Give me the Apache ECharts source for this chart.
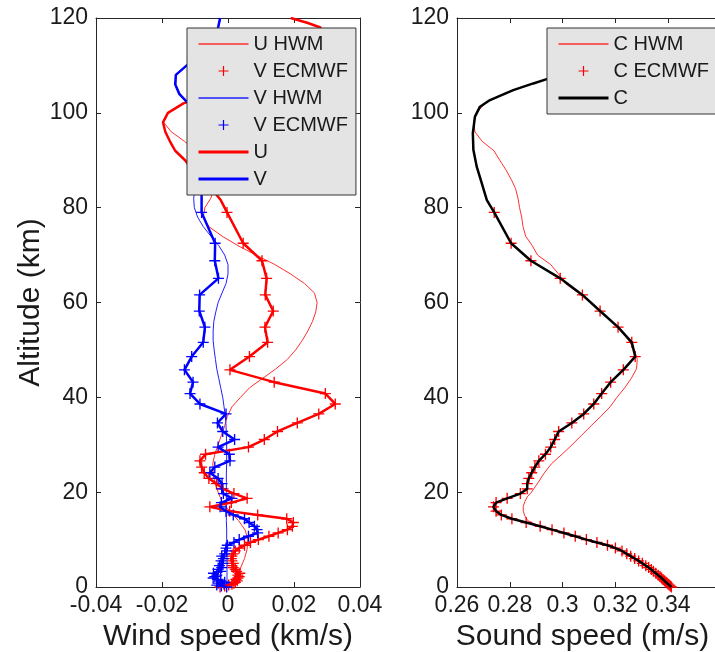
<!DOCTYPE html>
<html><head><meta charset="utf-8">
<script src="https://cdn.jsdelivr.net/npm/echarts@6/dist/echarts.min.js"></script>
<style>html,body{margin:0;padding:0;background:#fff}#c{width:715px;height:652px}</style>
</head><body><div id="c"></div>
<script>
// ECMWF model level altitudes (km)
const altE = [0.0,0.2,0.4,0.6,0.8,1.0,1.3,1.6,1.9,2.2,2.5,2.9,3.3,3.7,4.1,4.5,5.0,5.5,6.0,6.5,7.0,7.6,8.2,8.8,9.4,10.0,10.7,11.4,12.1,12.8,13.6,14.4,15.2,16.0,16.9,17.8,18.7,19.7,20.7,21.8,22.9,24.1,25.3,26.6,28.0,29.5,31.1,32.8,34.6,36.5,38.6,40.8,43.2,45.8,48.6,51.6,54.8,58.2,61.6,65.1,68.8,72.5,79.0];
// U ECMWF (km/s)
const uE = [-0.0024,-0.0010,0.0002,0.0012,0.0018,0.0022,0.0028,0.0024,0.0030,0.0034,0.0030,0.0036,0.0026,0.0022,0.0016,0.0012,0.0016,0.0012,0.0010,0.0012,0.0016,0.0022,0.0034,0.0050,0.0068,0.0092,0.0124,0.0152,0.0180,0.0195,0.0198,0.0178,0.0090,0.0005,-0.0055,0.0010,0.0058,0.0018,-0.0015,-0.0035,-0.0058,-0.0072,-0.0080,-0.0085,-0.0068,0.0062,0.0110,0.0150,0.0210,0.0275,0.0325,0.0295,0.0140,0.0006,0.0065,0.0120,0.0112,0.0137,0.0113,0.0117,0.0103,0.0046,-0.0003];
// V ECMWF (km/s)
const vE = [-0.0004,-0.0020,-0.0034,-0.0012,-0.0030,-0.0010,-0.0022,-0.0032,-0.0045,-0.0040,-0.0034,-0.0044,-0.0022,-0.0030,-0.0019,-0.0026,-0.0015,-0.0021,-0.0014,-0.0019,-0.0010,-0.0004,-0.0006,-0.0002,0.0018,0.0034,0.0062,0.0090,0.0088,0.0080,0.0064,0.0050,0.0016,-0.0006,-0.0024,-0.0020,0.0012,-0.0014,-0.0019,-0.0018,-0.0030,-0.0055,-0.0040,0.0006,0.0004,-0.0030,0.0020,-0.0016,-0.0032,-0.0006,-0.0085,-0.0115,-0.0106,-0.0132,-0.0110,-0.0075,-0.0070,-0.0087,-0.0086,-0.0029,-0.0040,-0.0039,-0.0080];
// C ECMWF (sound speed)
const cE = [0.3412,0.3408,0.3404,0.3400,0.3396,0.3392,0.3386,0.3380,0.3375,0.3369,0.3362,0.3353,0.3344,0.3336,0.3326,0.3315,0.3302,0.3288,0.3273,0.3258,0.3243,0.3225,0.3200,0.3170,0.3130,0.3090,0.3048,0.3005,0.2960,0.2915,0.2862,0.2808,0.2768,0.2748,0.2738,0.2748,0.2790,0.2840,0.2866,0.2866,0.2872,0.2883,0.2895,0.2910,0.2935,0.2955,0.2970,0.2985,0.3035,0.3080,0.3118,0.3148,0.3182,0.3230,0.3275,0.3262,0.3210,0.3142,0.3075,0.2991,0.2880,0.2805,0.2741];

// Combined profiles above the ECMWF top
const altWUp = [81.6,84,86,88,90,92,94,96,98,100,102,104,106,108,110,112,114,116,118,119,120];
const uUp = [-0.0022,-0.0050,-0.0080,-0.0108,-0.0130,-0.0160,-0.0176,-0.0190,-0.0197,-0.0182,-0.0135,-0.0060,0.0020,0.0100,0.0170,0.0230,0.0270,0.0290,0.0280,0.0240,0.0190];
const vUp = [-0.0080,-0.0080,-0.0072,-0.0065,-0.0058,-0.0055,-0.0058,-0.0070,-0.0090,-0.0105,-0.0120,-0.0148,-0.0160,-0.0158,-0.0125,-0.0080,-0.0050,-0.0035,-0.0030,-0.0027,-0.0024];
const altCUp = [81.6,85.1,88.6,92.2,95.7,99.2,101.3,102.7,104.8,106.2,107.1,108.5,110,112,114,116,118,120];
const cUp = [0.2713,0.2694,0.2675,0.2662,0.2660,0.2668,0.2687,0.2725,0.2813,0.2889,0.2940,0.3020,0.3120,0.3270,0.3430,0.3600,0.3780,0.3950];

// HWM profiles
const altH = [0,2,4,6,8,10,12,14,16,18,20,22,24,26,28,30,32,34,36,38,40,42,44,46,48,50,52,54,56,58,60,62,64,66,68,70,72,74,76,78,80,82,84,86,88,90,92,94,96,98,100,102,104,106,108,110,112,114,116,118,120];
const uH = [0.0000,0.0020,0.0038,0.0050,0.0058,0.0060,0.0052,0.0032,0.0005,-0.0018,-0.0030,-0.0040,-0.0045,-0.0046,-0.0040,-0.0030,-0.0020,-0.0010,-0.0002,0.0012,0.0038,0.0065,0.0105,0.0145,0.0180,0.0205,0.0225,0.0242,0.0256,0.0266,0.0270,0.0262,0.0232,0.0190,0.0142,0.0085,0.0030,-0.0018,-0.0058,-0.0075,-0.0070,-0.0052,-0.0042,-0.0042,-0.0050,-0.0070,-0.0098,-0.0132,-0.0172,-0.0195,-0.0182,-0.0135,-0.0060,0.0020,0.0100,0.0170,0.0230,0.0270,0.0290,0.0280,0.0190];
const vH = [-0.0003,-0.0003,-0.0003,-0.0003,-0.0004,-0.0004,-0.0004,-0.0005,-0.0005,-0.0005,-0.0005,-0.0005,-0.0005,-0.0004,-0.0004,-0.0004,-0.0005,-0.0006,-0.0008,-0.0012,-0.0016,-0.0022,-0.0028,-0.0034,-0.0038,-0.0042,-0.0045,-0.0045,-0.0043,-0.0037,-0.0030,-0.0018,-0.0006,0.0000,0.0000,-0.0010,-0.0028,-0.0052,-0.0075,-0.0092,-0.0102,-0.0104,-0.0100,-0.0090,-0.0080,-0.0070,-0.0062,-0.0062,-0.0072,-0.0090,-0.0106,-0.0120,-0.0145,-0.0158,-0.0158,-0.0125,-0.0082,-0.0052,-0.0036,-0.0029,-0.0022];
const altCH = [0,2,4,6,8,10,12,13,14,15,16,17,18,19,20,22,24,26,28,30,32,34,36,38,40,42,44,46,48,50,52,54,56,58,60,62,64,66,68,70,72,74,76,78,80,82,84,86,88,90,92,94,96,98,100,102,104,106,108,110,112,114,116,118,120];
const cH = [0.3412,0.3372,0.3329,0.3273,0.3210,0.3090,0.2968,0.2905,0.2868,0.2857,0.2851,0.2851,0.2857,0.2866,0.2882,0.2907,0.2930,0.2958,0.2998,0.3036,0.3072,0.3108,0.3145,0.3180,0.3206,0.3235,0.3260,0.3280,0.3283,0.3272,0.3250,0.3222,0.3185,0.3148,0.3105,0.3060,0.3010,0.2985,0.2955,0.2905,0.2885,0.2860,0.2850,0.2845,0.2837,0.2831,0.2822,0.2805,0.2785,0.2762,0.2740,0.2695,0.2668,0.2663,0.2675,0.2705,0.2775,0.2878,0.2990,0.3120,0.3270,0.3430,0.3600,0.3780,0.3950];

const legendLeftNames = ['U HWM','U ECMWF','V HWM','V ECMWF','U','V'];
const legendLeftTexts = {'U HWM':'U HWM','U ECMWF':'V ECMWF','V HWM':'V HWM','V ECMWF':'V ECMWF','U':'U','V':'V'};
const legendRightNames = ['C HWM','C ECMWF','C'];

function pairs(xs, ys) { return xs.map((x, i) => [x, ys[i]]); }

const FONT = "'Liberation Sans', Arial, sans-serif";
const TXT = '#1a1a1a';
const AX = '#262626';
const PLUS = 'path://M0,4.4h10v1.2h-10z M4.4,0h1.2v10h-1.2z';

function xAx(grid, pos, min, max, labels, name, namePad) {
  return {
    type: 'value', gridIndex: grid, position: pos, min: min, max: max, interval: 0.02,
    axisLine: {show: true, onZero: false, lineStyle: {color: AX, width: 1}},
    axisTick: {show: true, inside: true, length: 5, lineStyle: {color: AX}},
    axisLabel: {show: labels, margin: 7, fontSize: 23, color: TXT, fontFamily: FONT, showMinLabel: true, showMaxLabel: grid === 0, hideOverlap: false},
    splitLine: {show: false},
    name: labels ? name : '', nameLocation: 'middle', nameGap: 33,
    nameTextStyle: {fontSize: 30, color: TXT, fontFamily: FONT, padding: namePad || 0}
  };
}
function yAx(grid, pos, labels, name) {
  return {
    type: 'value', gridIndex: grid, position: pos, min: 0, max: 120, interval: 20,
    axisLine: {show: true, onZero: false, lineStyle: {color: AX, width: 1}},
    axisTick: {show: true, inside: true, length: 5, lineStyle: {color: AX}},
    axisLabel: {show: labels, margin: 8, fontSize: 23, color: TXT, fontFamily: FONT, hideOverlap: false},
    splitLine: {show: false},
    name: name || '', nameLocation: 'middle', nameGap: 50,
    nameTextStyle: {fontSize: 30, color: TXT, fontFamily: FONT}
  };
}

function lineS(name, data, color, width, xi, yi, z) {
  return {name: name, type: 'line', data: data, xAxisIndex: xi, yAxisIndex: yi, symbol: 'none',
    lineStyle: {color: color, width: width}, itemStyle: {color: color}, z: z, clip: true, silent: true};
}
function markS(name, data, color, xi, yi, z) {
  return {name: name, type: 'scatter', data: data, xAxisIndex: xi, yAxisIndex: yi, symbol: PLUS, symbolSize: 11,
    itemStyle: {color: color, opacity: 1}, z: z, clip: true, silent: true};
}

const legendCommon = {
  orient: 'vertical', itemWidth: 50, itemHeight: 10, itemGap: 7, selectedMode: false, z: 100,
  backgroundColor: '#e4e4e4', borderColor: '#333', borderWidth: 1, borderRadius: 0,
  textStyle: {fontSize: 20, lineHeight: 20, color: TXT, fontFamily: FONT}
};
function legItem(name, kind) {
  if (kind === 'mark') return {name: name};
  return {name: name, itemStyle: {opacity: 0}, lineStyle: {width: kind === 'thick' ? 3 : 1.5}};
}

const option = {
  animation: false,
  backgroundColor: '#ffffff',
  grid: [
    {left: 96, top: 18, width: 264, height: 569, show: false, containLabel: false, outerBoundsMode: 'none'},
    {left: 457, top: 18, width: 264, height: 569, show: false, containLabel: false, outerBoundsMode: 'none'}
  ],
  xAxis: [
    xAx(0, 'bottom', -0.04, 0.04, true, 'Wind speed (km/s)'),
    xAx(0, 'top', -0.04, 0.04, false),
    xAx(1, 'bottom', 0.26, 0.36, true, 'Sound speed (m/s)', [0, 13, 0, 0]),
    xAx(1, 'top', 0.26, 0.36, false)
  ],
  yAxis: [
    yAx(0, 'left', true, 'Altitude (km)'),
    yAx(0, 'right', false),
    yAx(1, 'left', true),
    yAx(1, 'right', false)
  ],
  legend: [
    Object.assign({}, legendCommon, {
      left: 187, top: 28, padding: [6, 8, 6, 10],
      data: [legItem('U HWM','thin'), legItem('U ECMWF','mark'), legItem('V HWM','thin'), legItem('V ECMWF','mark'), legItem('U','thick'), legItem('V','thick')],
      formatter: function (n) { return legendLeftTexts[n] || n; }
    }),
    Object.assign({}, legendCommon, {
      left: 547, top: 28, padding: [6, 8, 6, 10],
      data: [legItem('C HWM','thin'), legItem('C ECMWF','mark'), legItem('C','thick')]
    })
  ],
  series: [
    lineS('U HWM', pairs(uH, altH), '#ff3030', 1, 0, 0, 2),
    markS('U ECMWF', pairs(uE, altE), '#ff0000', 0, 0, 3),
    lineS('V HWM', pairs(vH, altH), '#2020ff', 1, 0, 0, 4),
    markS('V ECMWF', pairs(vE, altE), '#0000ff', 0, 0, 5),
    lineS('U', pairs(uE, altE).concat(pairs(uUp, altWUp)), '#ff0000', 2.5, 0, 0, 6),
    lineS('V', pairs(vE, altE).concat(pairs(vUp, altWUp)), '#0000ff', 2.5, 0, 0, 7),
    lineS('C HWM', pairs(cH, altCH), '#ff3030', 1, 2, 2, 2),
    markS('C ECMWF', pairs(cE, altE), '#ff0000', 2, 2, 3),
    lineS('C', pairs(cE, altE).concat(pairs(cUp, altCUp)), '#000000', 2.5, 2, 2, 4)
  ]
};

const chart = echarts.init(document.getElementById('c'), null, {renderer: 'canvas'});
chart.setOption(option);
</script></body></html>
